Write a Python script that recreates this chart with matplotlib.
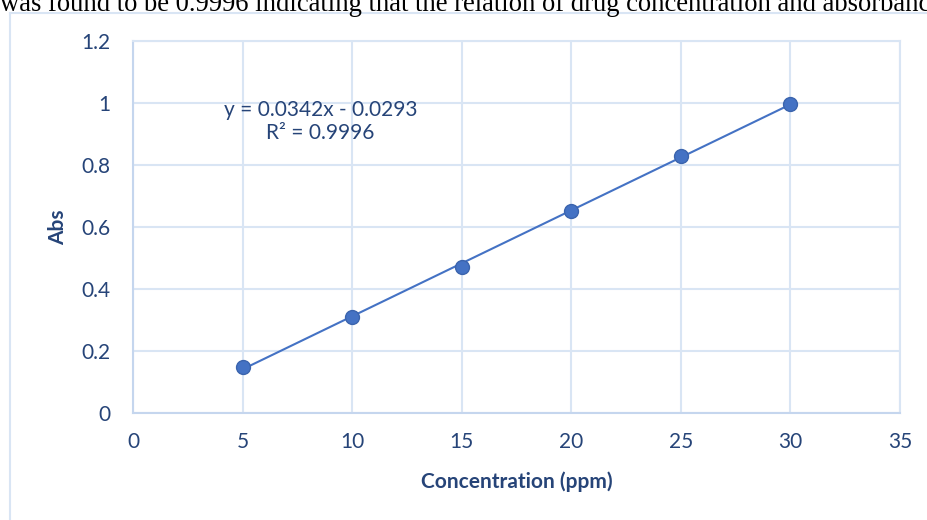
"""Calibration curve: absorbance vs concentration with linear trendline."""

import matplotlib.pyplot as plt
from matplotlib.lines import Line2D
import numpy as np

conc_ppm = [5, 10, 15, 20, 25, 30]
absorbance = [0.148, 0.311, 0.472, 0.651, 0.830, 0.997]
x_ticks = [0, 5, 10, 15, 20, 25, 30, 35]
y_ticks = [0, 0.2, 0.4, 0.6, 0.8, 1.0, 1.2]
y_tick_labels = ["0", "0.2", "0.4", "0.6", "0.8", "1", "1.2"]

TEXT = "#264478"
GRID = "#D9E5F4"
BLUE = "#4472C4"

plt.rcParams["font.family"] = ["Lato", "DejaVu Sans"]

fig = plt.figure(figsize=(9.28, 5.2), dpi=100)
ax = fig.add_axes([0.1433, 0.2058, 0.8265, 0.7154])

# trendline through the points (Excel style)
slope, intercept = np.polyfit(conc_ppm, absorbance, 1)
xs = np.array([conc_ppm[0], conc_ppm[-1]])
ax.plot(xs, slope * xs + intercept, color=BLUE, lw=1.5, zorder=3)
ax.plot(conc_ppm, absorbance, "o", ms=10, color=BLUE, mec="#3B64AD",
        mew=1, zorder=4)

ax.set_xlim(0, 35)
ax.set_ylim(0, 1.2)
ax.set_xticks(x_ticks)
ax.set_yticks(y_ticks)
ax.set_yticklabels(y_tick_labels)
ax.grid(True, color=GRID, lw=1.5, zorder=0)
ax.set_axisbelow(True)
for side in ("left", "bottom"):
    ax.spines[side].set_color("#C5D6EE")
    ax.spines[side].set_linewidth(1.5)
for side in ("top", "right"):
    ax.spines[side].set_color(GRID)
    ax.spines[side].set_linewidth(1.5)
ax.tick_params(axis="x", length=0, labelsize=15, colors=TEXT, pad=14)
ax.tick_params(axis="y", length=0, labelsize=15, colors=TEXT, pad=16)

ax.set_xlabel("Concentration (ppm)", fontsize=15, fontweight="bold",
              color=TEXT, labelpad=14)
ax.set_ylabel("Abs", fontsize=15, fontweight="bold", color=TEXT, labelpad=10)

ax.text(8.55, 1.01, "y = 0.0342x - 0.0293\nR² = 0.9996", ha="center",
        va="top", fontsize=15, color=TEXT, linespacing=1.2)

# surrounding chart frame and cut-off line of body text above it
fig.add_artist(Line2D([10 / 928, 10 / 928], [0, 1 - 13 / 520],
                      color=GRID, lw=1.5))
fig.add_artist(Line2D([10 / 928, 1], [1 - 13 / 520, 1 - 13 / 520],
                      color=GRID, lw=1.5))
fig.text(0.0, 1 - 11 / 520,
         "was found to be 0.9996 indicating that the relation of drug "
         "concentration and absorbance is linear",
         family=["Liberation Serif", "DejaVu Serif"], fontsize=19.2,
         color="black", va="baseline", ha="left")

fig.savefig("out.png", dpi=100)
plt.close(fig)
